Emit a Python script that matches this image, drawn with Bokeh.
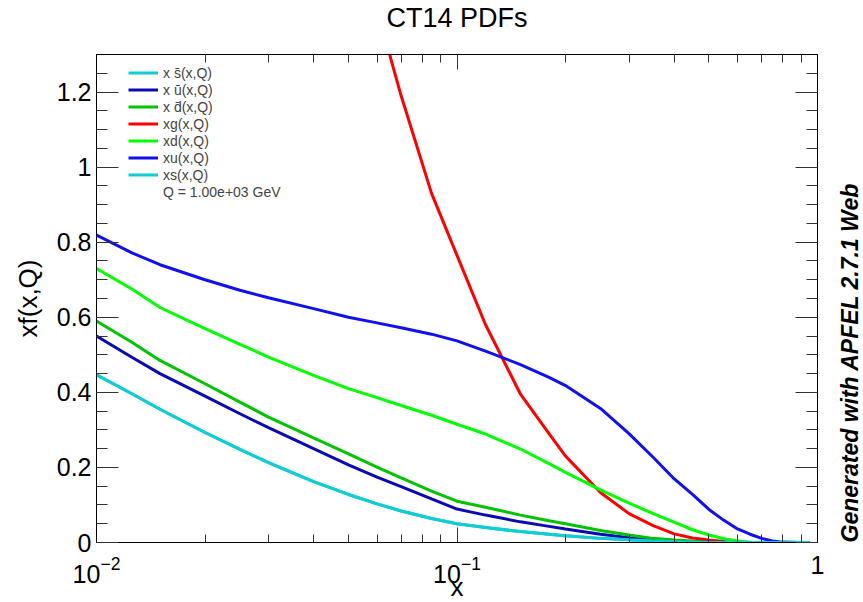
import math
from bokeh.plotting import figure
from bokeh.models import (Range1d, FixedTicker, SingleIntervalTicker, LogAxis, LinearAxis,
                          Legend, LegendItem, CustomJSTickFormatter, Title)
from bokeh.embed import file_html
from bokeh.resources import INLINE

# ---- data ----
x_vals = [0.01, 0.0125, 0.015, 0.02, 0.025, 0.03, 0.04, 0.05, 0.06, 0.07, 0.085, 0.1,
          0.12, 0.15, 0.18, 0.2, 0.25, 0.3, 0.35, 0.4, 0.45, 0.5, 0.55, 0.6, 0.65,
          0.7, 0.75, 0.8, 0.9, 0.95]

xsbar = [0.447, 0.397, 0.355, 0.293, 0.248, 0.213, 0.162, 0.128, 0.103, 0.084, 0.064, 0.050,
         0.040, 0.029, 0.022, 0.018, 0.011, 0.007, 0.004, 0.002, 0.001, 0.0, 0.0, 0.0, 0.0,
         0.0, 0.0, 0.0, 0.0, 0.0]
xubar = [0.550, 0.494, 0.450, 0.390, 0.343, 0.306, 0.250, 0.207, 0.174, 0.149, 0.116, 0.089,
         0.073, 0.055, 0.043, 0.036, 0.022, 0.013, 0.007, 0.004, 0.002, 0.001, 0.0, 0.0, 0.0,
         0.0, 0.0, 0.0, 0.0, 0.0]
xdbar = [0.590, 0.534, 0.485, 0.423, 0.374, 0.334, 0.279, 0.236, 0.201, 0.172, 0.137, 0.110,
         0.094, 0.073, 0.058, 0.050, 0.032, 0.020, 0.011, 0.007, 0.004, 0.002, 0.001, 0.0, 0.0,
         0.0, 0.0, 0.0, 0.0, 0.0]
xg = [6.2, 5.4, 4.8, 3.9, 3.3, 2.8, 2.2, 1.75, 1.42, 1.19, 0.93, 0.765,
      0.58, 0.395, 0.29, 0.23, 0.133, 0.077, 0.045, 0.023, 0.012, 0.007, 0.003, 0.001, 0.0,
      0.0, 0.0, 0.0, 0.0, 0.0]
xd = [0.730, 0.676, 0.626, 0.570, 0.528, 0.494, 0.445, 0.410, 0.386, 0.365, 0.339, 0.315,
      0.289, 0.249, 0.210, 0.187, 0.140, 0.105, 0.077, 0.054, 0.034, 0.020, 0.010, 0.004, 0.001,
      0.0, 0.0, 0.0, 0.0, 0.0]
xu = [0.819, 0.772, 0.740, 0.700, 0.672, 0.652, 0.623, 0.600, 0.585, 0.572, 0.555, 0.537,
      0.510, 0.474, 0.440, 0.418, 0.357, 0.290, 0.227, 0.170, 0.128, 0.088, 0.059, 0.036, 0.022,
      0.011, 0.004, 0.001, 0.0, 0.0]
xs = list(xsbar)

series_labels = ["x s\u0304(x,Q)", "x \u016b(x,Q)", "x d\u0304(x,Q)", "xg(x,Q)",
                 "xd(x,Q)", "xu(x,Q)", "xs(x,Q)"]
series_values = [xsbar, xubar, xdbar, xg, xd, xu, xs]
series_colors = ["#10ccd4", "#0a0ab4", "#00c400", "#ff0000", "#00ff00", "#1010f0", "#10ccd4"]

x_major = [0.01, 0.1, 1.0]
x_minor = [0.02, 0.03, 0.04, 0.05, 0.06, 0.07, 0.08, 0.09,
           0.2, 0.3, 0.4, 0.5, 0.6, 0.7, 0.8, 0.9]

title_text = "CT14 PDFs"
q_text = "Q = 1.00e+03 GeV"
x_title = "x"
y_title = "xf(x,Q)"
side_text = "Generated with APFEL 2.7.1 Web"

FONT = "Liberation Sans"
W, H = 885, 610

p = figure(width=W, height=H, x_axis_type="log",
           x_range=Range1d(0.01, 1.0), y_range=Range1d(0.0, 1.3),
           output_backend="svg", toolbar_location=None,
           min_border_left=96, min_border_right=W - 817, min_border_top=54,
           min_border_bottom=H - 542)
p.grid.visible = False
p.outline_line_color = "black"
p.background_fill_color = "white"
p.border_fill_color = "white"

p.title.text = title_text
p.title.align = "center"
p.title.vertical_align = "bottom"
p.title.standoff = 0
p.title.text_font = FONT
p.title.text_font_size = "27px"
p.title.text_font_style = "normal"
p.title.text_color = "black"

renderers = []
for vals, col in zip(series_values, series_colors):
    r = p.line(x_vals, vals, line_color=col, line_width=3)
    renderers.append(r)
q_r = p.line([0.5], [0.5], line_alpha=0)

blank = CustomJSTickFormatter(code="return ''")

def style_common(ax):
    ax.major_tick_out = 0
    ax.minor_tick_out = 0
    ax.axis_line_color = "black"
    ax.major_tick_line_color = "#333333"
    ax.minor_tick_line_color = "#333333"
    ax.axis_label_text_font = FONT
    ax.axis_label_text_font_style = "normal"
    ax.axis_label_text_color = "black"

def style_x(ax, labels=True):
    ax.ticker = FixedTicker(ticks=x_major, minor_ticks=x_minor)
    ax.major_tick_in = 15
    ax.minor_tick_in = 8
    style_common(ax)
    if labels:
        ax.major_label_text_font = FONT
        ax.major_label_text_font_size = "25px"
        ax.major_label_text_color = "black"
        ax.major_label_standoff = 13
        ax.major_label_overrides = {1.0: "1"}
    else:
        ax.formatter = blank
        ax.major_label_standoff = 0

def style_y(ax, labels=True):
    ax.ticker = SingleIntervalTicker(interval=0.2, num_minor_ticks=4)
    ax.major_tick_in = 22
    ax.minor_tick_in = 11
    style_common(ax)
    if labels:
        ax.major_label_text_font = FONT
        ax.major_label_text_font_size = "25px"
        ax.major_label_text_color = "black"
        ax.major_label_standoff = 5
        ax.major_label_overrides = {0: "0", 1: "1"}
    else:
        ax.formatter = blank
        ax.major_label_standoff = 0

style_x(p.xaxis[0])
p.xaxis[0].axis_label = x_title
p.xaxis[0].axis_label_text_font_size = "26px"
p.xaxis[0].axis_label_standoff = -14

style_y(p.yaxis[0])
p.yaxis[0].axis_label = y_title
p.yaxis[0].axis_label_text_font_size = "26px"
p.yaxis[0].axis_label_standoff = 11

top_ax = LogAxis()
style_x(top_ax, labels=False)
p.add_layout(top_ax, "above")

# empty spacer between the top axis and the title, lifting the title up
spacer = Title(text=" ", text_font=FONT, text_font_size="18px", standoff=0)
p.add_layout(spacer, "above")

right_ax = LinearAxis()
style_y(right_ax, labels=False)
right_ax.axis_label = side_text
right_ax.axis_label_text_font_size = "23px"
right_ax.axis_label_text_font_style = "bold italic"
right_ax.axis_label_standoff = 32
props = LinearAxis.properties()
if "axis_label_orientation" in props:
    right_ax.axis_label_orientation = math.pi / 2
if "axis_label_align" in props:
    right_ax.axis_label_align = "start"
p.add_layout(right_ax, "right")

items = [LegendItem(label=lab, renderers=[r]) for lab, r in zip(series_labels, renderers)]
items.append(LegendItem(label=q_text, renderers=[q_r]))
legend = Legend(items=items, location=(32, 342), padding=0, margin=0, spacing=0,
                glyph_width=30, glyph_height=17, label_height=17, label_standoff=5,
                label_text_font=FONT, label_text_font_size="14px",
                background_fill_alpha=0, border_line_alpha=0)
p.add_layout(legend)

open("out.html", "w").write(file_html(p, INLINE))
